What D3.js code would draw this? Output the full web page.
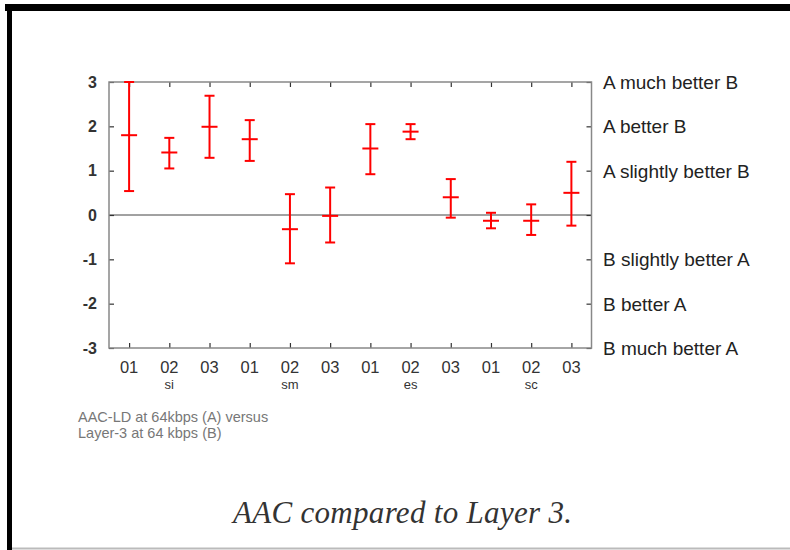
<!DOCTYPE html>
<html><head><meta charset="utf-8">
<script src="https://cdn.jsdelivr.net/npm/d3@7"></script>
<style>html,body{margin:0;padding:0;background:#fff;}</style>
</head><body>
<svg id="c" width="790" height="550"></svg>
<script>
const positions = [1,2,3,4,5,6,7,8,9,10,11,12];
const xLabels = ["01","02","03","01","02","03","01","02","03","01","02","03"];
const groupLabels = [{pos:2,label:"si"},{pos:5,label:"sm"},{pos:8,label:"es"},{pos:11,label:"sc"}];
const means = [1.80,1.41,1.99,1.71,-0.32,-0.02,1.50,1.88,0.40,-0.13,-0.13,0.50];
const upper = [3.00,1.74,2.69,2.14,0.47,0.62,2.05,2.05,0.81,0.05,0.24,1.20];
const lower = [0.54,1.05,1.29,1.22,-1.09,-0.62,0.92,1.71,-0.06,-0.30,-0.45,-0.24];
const yTicks = [-3,-2,-1,0,1,2,3];
const rightLabels = [
  {v:3,t:"A much better B"},{v:2,t:"A better B"},{v:1,t:"A slightly better B"},
  {v:-1,t:"B slightly better A"},{v:-2,t:"B better A"},{v:-3,t:"B much better A"}];
const noteLines = ["AAC-LD at 64kbps (A) versus","Layer-3 at 64 kbps (B)"];
const caption = "AAC compared to Layer 3.";

const svg = d3.select("#c");
const L=109, R=591.5, T=82, B=348;
const x = d3.scaleLinear().domain([0.5,12.5]).range([L,R]);
const y = d3.scaleLinear().domain([-3,3]).range([B,T]);

// page border
svg.append("rect").attr("x",5).attr("y",4).attr("width",785).attr("height",7).attr("fill","#000");
svg.append("rect").attr("x",7).attr("y",4).attr("width",5).attr("height",546).attr("fill","#000");
svg.append("line").attr("x1",12).attr("x2",790).attr("y1",548.5).attr("y2",548.5).attr("stroke","#bbb").attr("stroke-width",2);

const g = svg.append("g");
// zero line
g.append("line").attr("x1",L).attr("x2",R).attr("y1",y(0)).attr("y2",y(0)).attr("stroke","#444").attr("stroke-width",1);

// axes with inward ticks
const axL = g.append("g").attr("transform",`translate(${L},0)`).call(d3.axisRight(y).tickValues(yTicks).tickSize(5).tickFormat(""));
const axR = g.append("g").attr("transform",`translate(${R},0)`).call(d3.axisLeft(y).tickValues(yTicks).tickSize(5).tickFormat(""));
const axB = g.append("g").attr("transform",`translate(0,${B})`).call(d3.axisTop(x).tickValues(positions).tickSize(5).tickFormat(""));
const axT = g.append("g").attr("transform",`translate(0,${T})`).call(d3.axisBottom(x).tickValues(positions).tickSize(5).tickFormat(""));
[axL,axR,axB,axT].forEach(a=>{a.select(".domain").remove();a.selectAll(".tick line").attr("stroke","#333").attr("stroke-width",1.2);});
g.append("rect").attr("x",L).attr("y",T).attr("width",R-L).attr("height",B-T).attr("fill","none").attr("stroke","#888").attr("stroke-width",1.5);

// left tick labels
g.selectAll(".yl").data(yTicks).enter().append("text")
  .attr("x",97).attr("y",d=>y(d)).attr("dy","0.36em").attr("text-anchor","end")
  .attr("font-family","Liberation Sans, Arial, sans-serif").attr("font-size",16).attr("font-weight","bold")
  .attr("fill","#333").text(d=>d);

// right labels
g.selectAll(".rl").data(rightLabels).enter().append("text")
  .attr("x",603).attr("y",d=>y(d.v)).attr("dy","0.36em")
  .attr("font-family","Liberation Sans, Arial, sans-serif").attr("font-size",19)
  .attr("fill","#222").text(d=>d.t);

// x labels
g.selectAll(".xl").data(positions).enter().append("text")
  .attr("x",d=>x(d)).attr("y",367).attr("dy","0.36em").attr("text-anchor","middle")
  .attr("font-family","Liberation Sans, Arial, sans-serif").attr("font-size",16.5)
  .attr("fill","#333").text((d,i)=>xLabels[i]);
g.selectAll(".gl").data(groupLabels).enter().append("text")
  .attr("x",d=>x(d.pos)).attr("y",384).attr("dy","0.36em").attr("text-anchor","middle")
  .attr("font-family","Liberation Sans, Arial, sans-serif").attr("font-size",13)
  .attr("fill","#333").text(d=>d.label);

// error bars
const eb = g.selectAll(".eb").data(positions).enter().append("g").attr("stroke","#ff0000").attr("stroke-width",2);
eb.append("line").attr("x1",d=>x(d)).attr("x2",d=>x(d)).attr("y1",(d,i)=>y(upper[i])).attr("y2",(d,i)=>y(lower[i]));
eb.append("line").attr("x1",d=>x(d)-5).attr("x2",d=>x(d)+5).attr("y1",(d,i)=>y(upper[i])).attr("y2",(d,i)=>y(upper[i]));
eb.append("line").attr("x1",d=>x(d)-5).attr("x2",d=>x(d)+5).attr("y1",(d,i)=>y(lower[i])).attr("y2",(d,i)=>y(lower[i]));
eb.append("line").attr("x1",d=>x(d)-8).attr("x2",d=>x(d)+8).attr("y1",(d,i)=>y(means[i])).attr("y2",(d,i)=>y(means[i]));

// note
svg.selectAll(".note").data(noteLines).enter().append("text")
  .attr("x",78).attr("y",(d,i)=>417+i*16).attr("dy","0.36em")
  .attr("font-family","Liberation Sans, Arial, sans-serif").attr("font-size",14.5)
  .attr("fill","#777").text(d=>d);

// caption
svg.append("text").attr("x",233).attr("y",513).attr("dy","0.33em")
  .attr("font-family","Liberation Serif, Times New Roman, serif").attr("font-style","italic")
  .attr("font-size",31).attr("fill","#333").attr("textLength",339).attr("lengthAdjust","spacing").text(caption);
</script>
</body></html>
